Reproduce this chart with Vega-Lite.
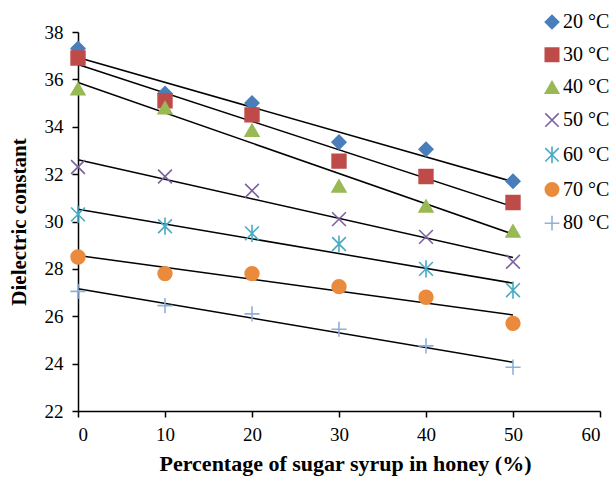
{
  "$schema": "https://vega.github.io/schema/vega-lite/v6.json",
  "width": 522,
  "height": 379,
  "autosize": {"type": "none"},
  "padding": {"left": 78, "top": 32, "right": 12, "bottom": 66},
  "background": "white",
  "config": {
    "view": {"stroke": null},
    "axis": {
      "labelFont": "Liberation Serif",
      "labelFontSize": 19,
      "labelColor": "black",
      "titleFont": "Liberation Serif",
      "titleFontSize": 21,
      "titleFontWeight": "bold",
      "titleColor": "black",
      "domainColor": "black",
      "domainWidth": 1.5,
      "tickColor": "black",
      "tickWidth": 1.5,
      "tickSize": 6,
      "grid": false
    },
    "legend": {
      "labelFont": "Liberation Serif",
      "labelFontSize": 20,
      "labelColor": "black"
    }
  },
  "data": {
    "values": [
      {"p": 0, "temp": "20 °C", "e": 37.3},
      {"p": 10, "temp": "20 °C", "e": 35.4},
      {"p": 20, "temp": "20 °C", "e": 35.0},
      {"p": 30, "temp": "20 °C", "e": 33.35},
      {"p": 40, "temp": "20 °C", "e": 33.05},
      {"p": 50, "temp": "20 °C", "e": 31.7},
      {"p": 0, "temp": "30 °C", "e": 36.9},
      {"p": 10, "temp": "30 °C", "e": 35.1},
      {"p": 20, "temp": "30 °C", "e": 34.5},
      {"p": 30, "temp": "30 °C", "e": 32.55},
      {"p": 40, "temp": "30 °C", "e": 31.9},
      {"p": 50, "temp": "30 °C", "e": 30.8},
      {"p": 0, "temp": "40 °C", "e": 35.6},
      {"p": 10, "temp": "40 °C", "e": 34.8},
      {"p": 20, "temp": "40 °C", "e": 33.85},
      {"p": 30, "temp": "40 °C", "e": 31.5},
      {"p": 40, "temp": "40 °C", "e": 30.65},
      {"p": 50, "temp": "40 °C", "e": 29.6},
      {"p": 0, "temp": "50 °C", "e": 32.3},
      {"p": 10, "temp": "50 °C", "e": 31.9},
      {"p": 20, "temp": "50 °C", "e": 31.3},
      {"p": 30, "temp": "50 °C", "e": 30.1},
      {"p": 40, "temp": "50 °C", "e": 29.35},
      {"p": 50, "temp": "50 °C", "e": 28.3},
      {"p": 0, "temp": "60 °C", "e": 30.3},
      {"p": 10, "temp": "60 °C", "e": 29.8},
      {"p": 20, "temp": "60 °C", "e": 29.5},
      {"p": 30, "temp": "60 °C", "e": 29.05},
      {"p": 40, "temp": "60 °C", "e": 28.0},
      {"p": 50, "temp": "60 °C", "e": 27.1},
      {"p": 0, "temp": "70 °C", "e": 28.5},
      {"p": 10, "temp": "70 °C", "e": 27.8},
      {"p": 20, "temp": "70 °C", "e": 27.8},
      {"p": 30, "temp": "70 °C", "e": 27.25},
      {"p": 40, "temp": "70 °C", "e": 26.8},
      {"p": 50, "temp": "70 °C", "e": 25.7},
      {"p": 0, "temp": "80 °C", "e": 27.05},
      {"p": 10, "temp": "80 °C", "e": 26.45},
      {"p": 20, "temp": "80 °C", "e": 26.1},
      {"p": 30, "temp": "80 °C", "e": 25.45},
      {"p": 40, "temp": "80 °C", "e": 24.75},
      {"p": 50, "temp": "80 °C", "e": 23.85}
    ]
  },
  "encoding": {
    "x": {
      "field": "p", "type": "quantitative",
      "scale": {"domain": [0, 60], "nice": false},
      "axis": {"values": [0, 10, 20, 30, 40, 50, 60], "title": "Percentage of sugar syrup in honey (%)", "titleFontSize": 22, "titleX": 267, "labelPadding": 8, "titlePadding": 9}
    },
    "y": {
      "field": "e", "type": "quantitative",
      "scale": {"domain": [22, 38], "nice": false, "zero": false},
      "axis": {"values": [22, 24, 26, 28, 30, 32, 34, 36, 38], "title": "Dielectric constant", "labelPadding": 9, "titlePadding": 15}
    }
  },
  "layer": [
    {
      "transform": [
        {"regression": "e", "on": "p", "groupby": ["temp"], "extent": [0, 50]}
      ],
      "mark": {"type": "line", "color": "black", "strokeWidth": 1.5},
      "encoding": {"detail": {"field": "temp"}}
    },
    {
      "mark": {"type": "point", "filled": true, "strokeWidth": 1.6, "opacity": 1, "size": 190},
      "encoding": {
        "color": {
          "field": "temp", "type": "nominal",
          "scale": {"domain": ["20 °C", "30 °C", "40 °C", "50 °C", "60 °C", "70 °C", "80 °C"],
                    "range": ["#4A7EBB", "#BE4B48", "#98B954", "#7D60A0", "#46AAC5", "#EA8A3C", "#8EB0DA"]},
          "legend": {"title": null, "orient": "none", "legendX": 464, "legendY": -20, "symbolSize": 180, "rowPadding": 12.7, "labelOffset": 1, "symbolStrokeWidth": 1.6}
        },
        "stroke": {
          "field": "temp", "type": "nominal",
          "scale": {"domain": ["20 °C", "30 °C", "40 °C", "50 °C", "60 °C", "70 °C", "80 °C"],
                    "range": ["#4A7EBB", "#BE4B48", "#98B954", "#7D60A0", "#46AAC5", "#EA8A3C", "#8EB0DA"]},
          "legend": {"title": null, "orient": "none", "legendX": 464, "legendY": -20, "symbolSize": 180, "rowPadding": 12.7, "labelOffset": 1, "symbolStrokeWidth": 1.6}
        },
        "shape": {
          "field": "temp", "type": "nominal",
          "scale": {"domain": ["20 °C", "30 °C", "40 °C", "50 °C", "60 °C", "70 °C", "80 °C"],
                    "range": ["diamond", "square", "triangle-up", "M-1,-1L1,1M-1,1L1,-1", "M-1,-1L1,1M-1,1L1,-1M0,-1.25L0,1.25", "circle", "M-1.1,0L1.1,0M0,-1.1L0,1.1"]},
          "legend": {"title": null, "orient": "none", "legendX": 464, "legendY": -20, "symbolSize": 180, "rowPadding": 12.7, "labelOffset": 1, "symbolStrokeWidth": 1.6}
        }
      }
    }
  ]
}
